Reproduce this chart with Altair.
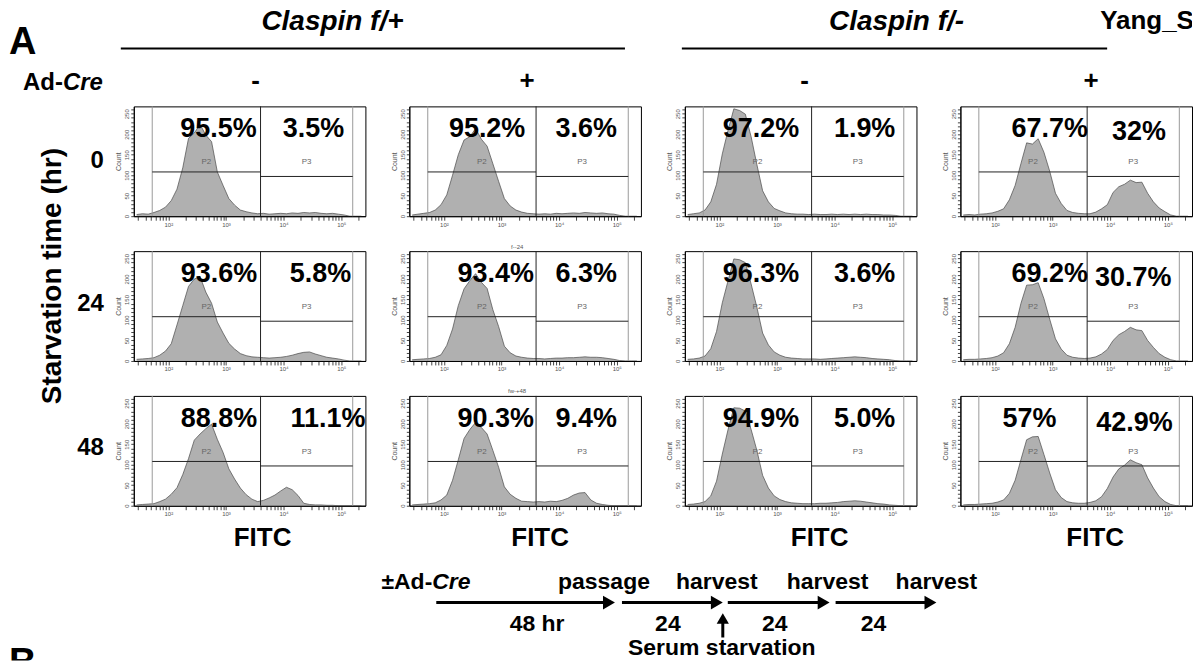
import math
import altair as alt
import pandas as pd

FONT = "Liberation Sans"

# ---------------- data ----------------
# FITC bin centres (log10 units); counts per bin
XGRID = [round(1.45 + 0.1 * i, 2) for i in range(40)]

H00 = [4, 6, 5, 9, 14, 22, 38, 66, 118, 190, 203, 224, 198, 182, 108, 75, 43, 27, 15, 11,
       8, 6, 7, 5, 6, 7, 6, 8, 7, 9, 8, 9, 7, 6, 7, 5, 3, 0, 0, 0]
H01 = [3, 5, 7, 9, 15, 28, 52, 100, 150, 186, 194, 214, 188, 171, 128, 85, 43, 25, 15, 10,
       7, 6, 5, 6, 5, 7, 6, 7, 8, 7, 9, 8, 7, 8, 6, 5, 2, 0, 0, 0]
H02 = [4, 6, 8, 15, 35, 78, 152, 210, 262, 258, 249, 194, 126, 62, 35, 19, 13, 8, 6, 5,
       5, 4, 5, 4, 4, 5, 4, 5, 4, 5, 4, 5, 4, 4, 3, 3, 2, 0, 0, 0]
H03 = [3, 4, 3, 5, 6, 8, 12, 18, 40, 75, 128, 179, 176, 189, 156, 110, 56, 31, 14, 9,
       7, 6, 6, 10, 18, 28, 58, 72, 78, 88, 82, 83, 56, 35, 20, 11, 3, 0, 0, 0]
H10 = [4, 5, 6, 8, 14, 24, 42, 88, 135, 182, 200, 206, 168, 141, 95, 68, 43, 29, 18, 13,
       10, 9, 8, 7, 8, 9, 11, 14, 18, 21, 22, 17, 13, 9, 7, 5, 2, 0, 0, 0]
H11 = [3, 4, 5, 6, 9, 15, 38, 78, 135, 176, 196, 213, 192, 177, 125, 84, 36, 20, 12, 9,
       7, 6, 6, 5, 6, 7, 7, 8, 8, 9, 10, 9, 9, 8, 6, 4, 1, 0, 0, 0]
H12 = [4, 5, 7, 12, 30, 72, 142, 196, 249, 247, 240, 188, 131, 68, 39, 22, 14, 9, 7, 6,
       5, 5, 5, 4, 5, 6, 7, 8, 9, 10, 9, 8, 6, 5, 4, 3, 1, 0, 0, 0]
H13 = [3, 4, 4, 5, 6, 8, 12, 20, 42, 82, 140, 185, 186, 191, 152, 102, 54, 29, 14, 9,
       7, 6, 7, 10, 17, 28, 50, 64, 72, 82, 76, 74, 50, 33, 18, 9, 3, 0, 0, 0]
H20 = [2, 3, 4, 5, 10, 16, 28, 44, 76, 115, 160, 175, 188, 199, 162, 130, 90, 65, 43, 27,
       16, 10, 13, 19, 26, 36, 45, 39, 25, 6, 3, 2, 2, 1, 1, 0, 0, 0, 0, 0]
H21 = [2, 3, 4, 5, 7, 14, 26, 62, 112, 164, 186, 203, 191, 175, 135, 94, 46, 28, 18, 11,
       10, 9, 10, 9, 11, 10, 13, 18, 26, 31, 32, 14, 6, 3, 1, 0, 0, 0, 0, 0]
H22 = [3, 4, 6, 10, 24, 60, 126, 186, 239, 238, 231, 186, 135, 74, 43, 24, 15, 10, 7, 6,
       5, 5, 5, 6, 6, 7, 8, 10, 11, 12, 11, 9, 7, 5, 4, 2, 1, 0, 0, 0]
H23 = [2, 3, 3, 4, 5, 6, 9, 14, 30, 62, 112, 161, 168, 169, 125, 80, 39, 20, 10, 7,
       6, 6, 8, 12, 22, 42, 70, 90, 99, 112, 105, 100, 68, 43, 22, 10, 3, 0, 0, 0]
HISTS = [H00, H01, H02, H03, H10, H11, H12, H13, H20, H21, H22, H23]

PCT_LEFT = ["95.5%", "95.2%", "97.2%", "67.7%",
            "93.6%", "93.4%", "96.3%", "69.2%",
            "88.8%", "90.3%", "94.9%", "57%"]
PCT_RIGHT = ["3.5%", "3.6%", "1.9%", "32%",
             "5.8%", "6.3%", "3.6%", "30.7%",
             "11.1%", "9.4%", "5.0%", "42.9%"]
GATE_NAMES = ["P2", "P3"]
COL_SIGNS = ["-", "+", "-", "+"]
ROW_LABELS = ["0", "24", "48"]
ROW_TITLE = "Starvation time (hr)"
GENOTYPES = ["Claspin f/+", "Claspin f/-"]
PANEL_TAGS = ["", "", "", "", "", "f--24", "", "", "", "fw-+48", "", ""]
X_TITLE = "FITC"
Y_TITLE = "Count"
STEP_LABELS = ["passage", "harvest", "harvest", "harvest"]
DURATIONS = ["48 hr", "24", "24", "24"]

# ---------------- layout (positions only) ----------------
PW, PH = 232, 110
COL_GAP = 44
PCT_LX = [2.87, 2.75, 2.72, 2.95, 2.88, 2.9, 2.72, 2.95, 2.88, 2.9, 2.72, 2.6]
PCT_RX = [4.52, 4.47, 4.52, 4.5, 4.64, 4.47, 4.52, 4.4, 4.77, 4.47, 4.52, 4.42]
PCT_RY = [212, 212, 212, 205, 212, 212, 212, 203, 212, 212, 212, 203]

XS = alt.Scale(domain=[1.4, 5.42], nice=False, zero=False)
YS = alt.Scale(domain=[0, 268], nice=False, zero=True)

XTICKS = sorted({round(math.log10(k) + n, 5) for n in range(1, 6) for k in range(1, 10)
                 if 1.4 <= math.log10(k) + n <= 5.42})
XLABEL_EXPR = ("datum.value == 2 ? '10²' : datum.value == 3 ? '10³' : "
               "datum.value == 4 ? '10⁴' : datum.value == 5 ? '10⁵' : ''")

X_AXIS = alt.Axis(values=XTICKS, labelExpr=XLABEL_EXPR, tickSize=4,
                  tickColor="#444", domainColor="black", labelFontSize=6, labelColor="#555",
                  labelPadding=1, labelOverlap=False, labelFlush=False, grid=False,
                  labelFont=FONT, title=None)

Y_AXIS = alt.Axis(values=list(range(0, 261, 10)),
                  labelExpr="datum.value % 50 == 0 ? datum.label : ''", tickSize=3,
                  labelAngle=270, labelFontSize=6, labelColor="#555", labelPadding=1,
                  labelOverlap=False, labelFlush=False, grid=False, domainColor="black",
                  tickColor="#444", title=Y_TITLE, titleFontSize=7, titleFontWeight="normal",
                  titleColor="#555", titlePadding=2, labelFont=FONT, titleFont=FONT)

NOSTROKE = alt.ViewBackground(stroke="transparent")


def px_enc(y=True):
    enc = {"x": alt.X("x:Q", scale=XS, axis=X_AXIS)}
    if y:
        enc["y"] = alt.Y("y:Q", scale=YS, axis=Y_AXIS)
    return enc


def panel(idx):
    hist = pd.DataFrame({"x": XGRID, "y": HISTS[idx]})
    area = alt.Chart(hist).mark_area(
        color="#8e8e8e", line={"color": "#4a4a4a", "strokeWidth": 0.7}, clip=True
    ).encode(**px_enc())
    gates_gray = alt.Chart(pd.DataFrame({"x": [1.72, 5.2]})).mark_rule(
        color="#9a9a9a", strokeWidth=1).encode(**px_enc(False))
    gate_mid = alt.Chart(pd.DataFrame({"x": [3.6]})).mark_rule(
        color="#222", strokeWidth=1).encode(**px_enc(False))
    gate_h = alt.Chart(pd.DataFrame({"x": [1.72, 3.6], "x2": [3.6, 5.2], "y": [108, 97]})).mark_rule(
        color="#222", strokeWidth=1).encode(x2="x2:Q", **px_enc())
    gate_txt = alt.Chart(pd.DataFrame({"x": [2.66, 4.4], "y": [132, 132], "t": GATE_NAMES})).mark_text(
        fontSize=8, color="#666", font=FONT).encode(text="t:N", **px_enc())
    pct = alt.Chart(pd.DataFrame({"x": [PCT_LX[idx], PCT_RX[idx]], "y": [212, PCT_RY[idx]],
                                  "t": [PCT_LEFT[idx], PCT_RIGHT[idx]]})).mark_text(
        fontSize=27, fontWeight="bold", color="black", font=FONT, baseline="middle").encode(
        text="t:N", **px_enc())
    props = dict(width=PW, height=PH, view=alt.ViewBackground(stroke="black", strokeWidth=1))
    if PANEL_TAGS[idx]:
        props["title"] = alt.TitleParams(PANEL_TAGS[idx], fontSize=6, fontWeight="normal",
                                         color="#555", font=FONT, offset=1, dx=-8)
    return alt.layer(area, gates_gray, gate_mid, gate_h, gate_txt, pct).properties(**props)


def pix(w, h):
    return (alt.Scale(domain=[0, w], nice=False, zero=False),
            alt.Scale(domain=[0, h], nice=False, zero=False, reverse=True))


def txt(sx, sy, xs_, ys_, texts, **mk):
    df = pd.DataFrame({"x": xs_, "y": ys_, "t": texts})
    return alt.Chart(df).mark_text(font=FONT, color="black", **mk).encode(
        x=alt.X("x:Q", scale=sx, axis=None), y=alt.Y("y:Q", scale=sy, axis=None), text="t:N")


def hrule(sx, sy, x1, x2, y, w):
    df = pd.DataFrame({"x": x1, "x2": x2, "y": y})
    return alt.Chart(df).mark_rule(color="black", strokeWidth=w).encode(
        x=alt.X("x:Q", scale=sx, axis=None), x2="x2:Q", y=alt.Y("y:Q", scale=sy, axis=None))


def filler():
    return alt.Chart(pd.DataFrame({"x": [0], "y": [0]})).mark_point(
        opacity=0, size=0, strokeWidth=0).encode(
        x=alt.X("x:Q", axis=None, scale=alt.Scale(domain=[0, 1])),
        y=alt.Y("y:Q", axis=None, scale=alt.Scale(domain=[0, 1]))
    ).properties(width=1, height=1, view=NOSTROKE)


# -------- annotation cell (top-left; 1 unit = 1 px; x = page-8, y = page) --------
AW, AH = 125 - COL_GAP, 70
ax, ay = pix(AW, AH)
B = dict(fontWeight="bold", baseline="alphabetic")
annot = alt.layer(
    txt(ax, ay, [0], [53], ["A"], fontSize=38, align="left", **B),
    txt(ax, ay, [324, 889], [28, 28], GENOTYPES, fontSize=28, fontStyle="italic", align="center", **B),
    hrule(ax, ay, [112, 674], [617, 1100], [47, 47], 2),
    txt(ax, ay, [14], [89], ["Ad-"], fontSize=24, align="left", **B),
    txt(ax, ay, [54], [89], ["Cre"], fontSize=24, fontStyle="italic", align="left", **B),
    txt(ax, ay, [247, 519, 797, 1084], [88] * 4, COL_SIGNS, fontSize=26, align="center", **B),
    txt(ax, ay, [44], [275], [ROW_TITLE], fontSize=28, fontWeight="bold", angle=270,
        align="center", baseline="middle"),
    txt(ax, ay, [95, 95, 95], [160, 303, 447], ROW_LABELS, fontSize=24, fontWeight="bold",
        align="right", baseline="middle"),
    txt(ax, ay, [254, 532, 812, 1088], [545] * 4, [X_TITLE] * 4, fontSize=26, align="center", **B),
    # timeline
    txt(ax, ay, [424], [588], ["±Ad-"], fontSize=23, align="right", **B),
    txt(ax, ay, [424], [588], ["Cre"], fontSize=23, fontStyle="italic", align="left", **B),
    txt(ax, ay, [596, 709, 820, 929], [588] * 4, STEP_LABELS, fontSize=23, align="center", **B),
    txt(ax, ay, [529, 660, 767, 866], [631] * 4, DURATIONS, fontSize=23, align="center", **B),
    txt(ax, ay, [714], [655], ["Serum starvation"], fontSize=23, align="center", **B),
    hrule(ax, ay, [428, 614, 720, 828], [602, 710, 817, 924], [602] * 4, 3),
    alt.Chart(pd.DataFrame({"x": [601, 709, 816, 923], "y": [602] * 4})).mark_point(
        shape="triangle-right", filled=True, color="black", opacity=1, size=190).encode(
        x=alt.X("x:Q", scale=ax, axis=None), y=alt.Y("y:Q", scale=ay, axis=None)),
    alt.Chart(pd.DataFrame({"x": [715], "y": [637], "y2": [620]})).mark_rule(
        color="black", strokeWidth=3).encode(
        x=alt.X("x:Q", scale=ax, axis=None), y=alt.Y("y:Q", scale=ay, axis=None), y2="y2:Q"),
    alt.Chart(pd.DataFrame({"x": [715], "y": [618]})).mark_point(
        shape="triangle-up", filled=True, color="black", opacity=1, size=150).encode(
        x=alt.X("x:Q", scale=ax, axis=None), y=alt.Y("y:Q", scale=ay, axis=None)),
).properties(width=AW, height=AH, view=NOSTROKE)

# clipped texts at the figure's edges
yx, yy = pix(PW, AH)
yang = txt(yx, yy, [140], [27], ["Yang_S"], fontSize=26, align="left", clip=True, **B
           ).properties(width=PW, height=AH, view=NOSTROKE)
bx, by = pix(AW, 120)
bcell = txt(bx, by, [0], [135], ["B"], fontSize=38, align="left", clip=True, **B
            ).properties(width=AW, height=120, view=NOSTROKE)

cells = [annot, filler(), filler(), filler(), yang]
for r in range(3):
    cells.append(filler())
    cells.extend(panel(4 * r + c) for c in range(4))
cells.extend([bcell, filler(), filler(), filler(), filler()])

chart = alt.concat(*cells, columns=5, spacing={"row": 35, "column": COL_GAP},
                   bounds="flush", align="each").properties(
    padding={"top": -8, "bottom": 0, "left": 0, "right": 0}
).configure(font=FONT).configure_view(stroke="black")

chart.save("out.html", embed_options={"renderer": "svg", "actions": False})
